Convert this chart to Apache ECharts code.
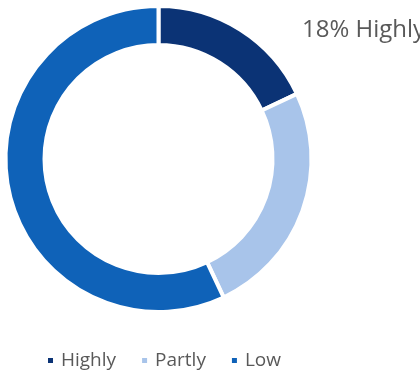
<!doctype html>
<html><head><meta charset="utf-8" />
<style>
  html,body,#app{margin:0;padding:0;width:420px;height:373px;background:#ffffff;overflow:hidden}
</style>
</head><body><div id="app"></div>
<script src="https://cdn.jsdelivr.net/npm/echarts@6/dist/echarts.min.js"></script>
<script>
// share of respondents, percent
const categories = ['Highly', 'Partly', 'Low'];
const shares = [18, 25, 57];
const colors = ['#0b3375', '#a8c4ea', '#0f62b8'];

const chart = echarts.init(document.getElementById('app'));
chart.setOption({
  backgroundColor: '#ffffff',
  animation: false,
  title: {
    text: shares[0] + '% ' + categories[0],
    left: 297, top: 13,
    textStyle: { color: '#595959', fontSize: 24, fontWeight: 'normal', fontFamily: 'Open Sans' }
  },
  legend: {
    data: categories,
    left: 41, top: 346,
    icon: 'rect', itemWidth: 7, itemHeight: 7, itemGap: 24,
    textStyle: { color: '#595959', fontSize: 19, fontFamily: 'Open Sans', padding: [0, 0, 0, 2] }
  },
  series: [{
    type: 'pie',
    center: [158.5, 159],
    radius: [114, 153],
    startAngle: 90,
    clockwise: true,
    label: { show: false },
    labelLine: { show: false },
    itemStyle: { borderColor: '#ffffff', borderWidth: 4 },
    data: categories.map((c, i) => ({ name: c, value: shares[i], itemStyle: { color: colors[i] } }))
  }]
});
</script></body></html>
